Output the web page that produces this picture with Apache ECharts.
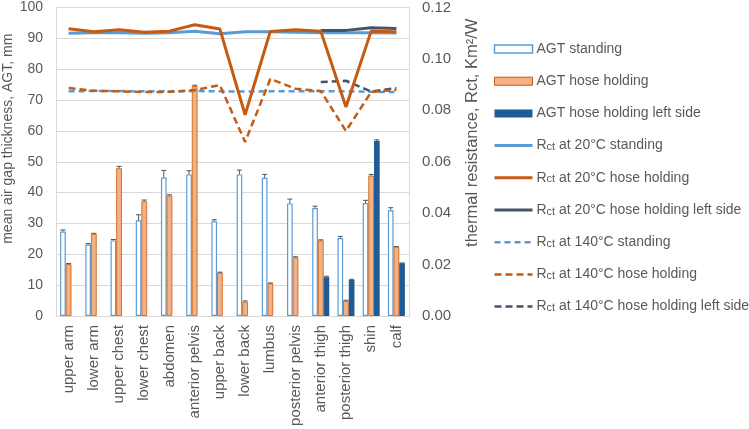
<!DOCTYPE html>
<html>
<head>
<meta charset="utf-8">
<script src="https://cdn.jsdelivr.net/npm/echarts@6/dist/echarts.min.js"></script>
</head>
<body style="margin:0">
<div id="main" style="width:749px;height:429px;"></div>
<script type="text/javascript">
var categories = ['upper arm', 'lower arm', 'upper chest', 'lower chest', 'abdomen', 'anterior pelvis', 'upper back',
    'lower back', 'lumbus', 'posterior pelvis', 'anterior thigh', 'posterior thigh', 'shin', 'calf'];

// AGT, mm (left axis)
var agtStanding = [27.4, 23.2, 24.5, 31.0, 44.9, 45.9, 30.7, 45.9, 44.8, 36.5, 35.0, 25.3, 36.6, 34.3];
var agtStandingErr = [0.5, 0.3, 0.3, 1.8, 2.3, 1.2, 0.5, 1.4, 1.1, 1.4, 0.6, 0.5, 0.9, 0.8];
var agtHose = [16.8, 26.6, 47.9, 37.2, 39.0, 74.5, 14.0, 4.6, 10.6, 19.0, 24.5, 4.9, 45.5, 22.4];
var agtHoseErr = [0.2, 0.2, 0.6, 0.4, 0.3, 0.3, 0.2, 0.3, 0.1, 0.2, 0.2, 0.2, 0.4, 0.1];
var agtLeft = [null, null, null, null, null, null, null, null, null, null, 12.6, 11.7, 56.7, 17.1];
var agtLeftErr = [null, null, null, null, null, null, null, null, null, null, 0.3, 0.2, 0.4, 0.1];

// Rct, Km2/W (right axis)
var rct20Standing = [0.1100, 0.1102, 0.1102, 0.1100, 0.1102, 0.1108, 0.1098, 0.1106, 0.1106, 0.1104, 0.1102, 0.1102, 0.1102, 0.1101];
var rct20Hose = [0.1117, 0.1106, 0.1113, 0.1104, 0.1108, 0.1133, 0.1116, 0.0783, 0.1107, 0.1113, 0.1108, 0.0813, 0.1108, 0.1106];
var rct20Left = [null, null, null, null, null, null, null, null, null, null, 0.1111, 0.1111, 0.1121, 0.1118];
var rct140Standing = [0.0874, 0.0875, 0.0875, 0.0874, 0.0874, 0.0875, 0.0874, 0.0873, 0.0874, 0.0874, 0.0874, 0.0874, 0.0872, 0.0871];
var rct140Hose = [0.0887, 0.0876, 0.0874, 0.0871, 0.0872, 0.0879, 0.0898, 0.0677, 0.0922, 0.0884, 0.0875, 0.0720, 0.0871, 0.0880];
var rct140Left = [null, null, null, null, null, null, null, null, null, null, 0.0910, 0.0915, 0.0873, 0.0887];

var font = 'Liberation Sans';
var grey = '#595959';
var barPct = 0.225;

function errData(vals, errs) {
    var out = [];
    for (var i = 0; i < vals.length; i++) {
        if (vals[i] != null) out.push([i, vals[i], errs[i]]);
    }
    return out;
}

// plus-only error bar, shifted to the matching bar slot (0,1,2)
function errSeries(vals, errs, slot) {
    return {
        type: 'custom',
        yAxisIndex: 0,
        silent: true,
        z: 5,
        data: errData(vals, errs),
        renderItem: function (params, api) {
            var band = api.size([1, 0])[0];
            var w = band * barPct;
            var x = api.coord([api.value(0), 0])[0] + (slot - 1) * w;
            var y0 = api.coord([api.value(0), api.value(1)])[1];
            var y1 = api.coord([api.value(0), api.value(1) + api.value(2)])[1];
            var st = { stroke: '#555', lineWidth: 1 };
            return {
                type: 'group',
                children: [
                    { type: 'line', shape: { x1: x, y1: y0, x2: x, y2: y1 }, style: st },
                    { type: 'line', shape: { x1: x - 2.5, y1: y1, x2: x + 2.5, y2: y1 }, style: st }
                ]
            };
        }
    };
}

function lineItem(name, w) {
    return { name: name, itemStyle: { opacity: 0 }, lineStyle: { width: w } };
}

var myChart = echarts.init(document.getElementById('main'));

var option = {
    animation: false,
    backgroundColor: '#fff',
    textStyle: { fontFamily: font },
    grid: { left: 56, right: 340, top: 7, bottom: 113 },
    legend: {
        orient: 'vertical',
        left: 493,
        top: 42,
        padding: 0,
        itemWidth: 38,
        itemHeight: 8,
        itemGap: 18.2,
        textStyle: {
            fontFamily: font, fontSize: 14, color: grey, padding: [0, 0, 0, -1],
            rich: { s: { fontFamily: font, fontSize: 11, color: grey, padding: [3, 0, 0, 0] } }
        },
        formatter: function (name) {
            if (name.indexOf('Rct') === 0) return 'R{s|ct}' + name.substring(3);
            return name;
        },
        data: [
            { name: 'AGT standing', icon: 'rect', itemStyle: { borderWidth: 1.5 } },
            { name: 'AGT hose holding', icon: 'rect', itemStyle: { borderWidth: 1 } },
            { name: 'AGT hose holding left side', icon: 'rect' },
            lineItem('Rct at 20°C standing', 3),
            lineItem('Rct at 20°C hose holding', 3),
            lineItem('Rct at 20°C hose holding left side', 3),
            lineItem('Rct at 140°C standing', 2.5),
            lineItem('Rct at 140°C hose holding', 2.5),
            lineItem('Rct at 140°C hose holding left side', 2.5)
        ]
    },
    xAxis: {
        type: 'category',
        data: categories,
        axisLine: { lineStyle: { color: '#d9d9d9' } },
        axisTick: { show: false },
        axisLabel: { rotate: 90, fontSize: 15, color: grey, margin: 9, interval: 0, fontFamily: font }
    },
    yAxis: [{
        type: 'value',
        min: 0, max: 100, interval: 10,
        name: 'mean air gap thickness, AGT, mm',
        nameLocation: 'middle',
        nameRotate: 90,
        nameGap: 41,
        nameTextStyle: { fontSize: 14, color: grey, fontFamily: font, padding: [0, 0, 0, 46] },
        axisLine: { show: true, lineStyle: { color: '#d9d9d9' } },
        axisLabel: { fontSize: 14, color: grey, margin: 13 },
        splitLine: { lineStyle: { color: '#d9d9d9' } }
    }, {
        type: 'value',
        min: 0, max: 0.12, interval: 0.02,
        name: 'thermal resistance, Rct, Km²/W',
        nameLocation: 'middle',
        nameRotate: 90,
        nameGap: 55,
        nameTextStyle: { fontSize: 16.5, color: grey, fontFamily: font, padding: [0, 0, 0, 58] },
        axisLine: { show: true, lineStyle: { color: '#d9d9d9' } },
        axisLabel: { fontSize: 15, color: grey, margin: 13, formatter: function (v) { return v.toFixed(2); } },
        splitLine: { show: false }
    }],
    series: [
        {
            name: 'AGT standing', type: 'bar', data: agtStanding, barWidth: '22.5%', barGap: '0%',
            itemStyle: { color: '#fff', borderColor: '#5b9bd5', borderWidth: 1.2 }
        },
        {
            name: 'AGT hose holding', type: 'bar', data: agtHose, barWidth: '22.5%', barGap: '0%',
            itemStyle: { color: '#f4b183', borderColor: '#c55a11', borderWidth: 0.8 }
        },
        {
            name: 'AGT hose holding left side', type: 'bar', data: agtLeft, barWidth: '22.5%', barGap: '0%',
            itemStyle: { color: '#1f5b94' }
        },
        errSeries(agtStanding, agtStandingErr, 0),
        errSeries(agtHose, agtHoseErr, 1),
        errSeries(agtLeft, agtLeftErr, 2),
        {
            name: 'Rct at 20°C standing', type: 'line', yAxisIndex: 1, data: rct20Standing, symbol: 'none', z: 10,
            itemStyle: { color: '#5b9bd5' }, lineStyle: { color: '#5b9bd5', width: 3 }
        },
        {
            name: 'Rct at 20°C hose holding', type: 'line', yAxisIndex: 1, data: rct20Hose, symbol: 'none', z: 11,
            itemStyle: { color: '#c55a11' }, lineStyle: { color: '#c55a11', width: 3 }
        },
        {
            name: 'Rct at 20°C hose holding left side', type: 'line', yAxisIndex: 1, data: rct20Left, symbol: 'none', z: 10,
            itemStyle: { color: '#44546a' }, lineStyle: { color: '#44546a', width: 3 }
        },
        {
            name: 'Rct at 140°C standing', type: 'line', yAxisIndex: 1, data: rct140Standing, symbol: 'none', z: 10,
            itemStyle: { color: '#5b9bd5' }, lineStyle: { color: '#5b9bd5', width: 2.5, type: [6, 4] }
        },
        {
            name: 'Rct at 140°C hose holding', type: 'line', yAxisIndex: 1, data: rct140Hose, symbol: 'none', z: 11,
            itemStyle: { color: '#c55a11' }, lineStyle: { color: '#c55a11', width: 2.5, type: [7, 4] }
        },
        {
            name: 'Rct at 140°C hose holding left side', type: 'line', yAxisIndex: 1, data: rct140Left, symbol: 'none', z: 10,
            itemStyle: { color: '#44546a' }, lineStyle: { color: '#44546a', width: 2.5, type: [7, 4] }
        }
    ]
};

myChart.setOption(option);
</script>
</body>
</html>
